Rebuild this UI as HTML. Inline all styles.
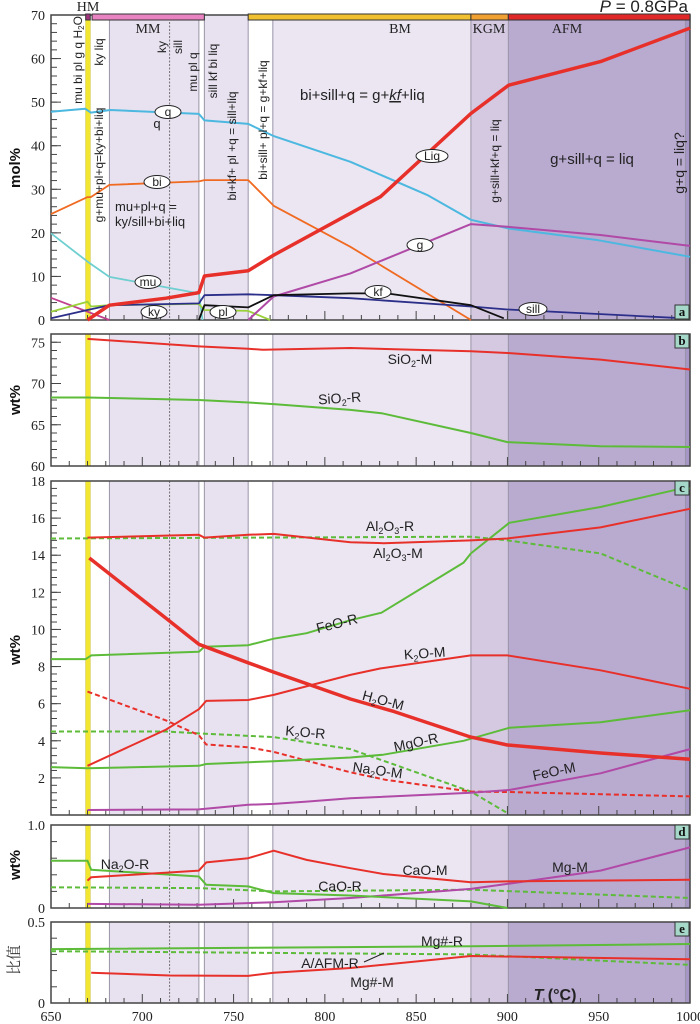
<!DOCTYPE html>
<html><head><meta charset="utf-8">
<style>
html,body{margin:0;padding:0;background:#fff;}
svg{display:block;}
.tk{font-family:"Liberation Serif",serif;font-size:14px;fill:#222;}
.lb{font-family:"Liberation Sans",sans-serif;fill:#222;}
</style></head>
<body>
<svg id="chart" width="700" height="1024" viewBox="0 0 700 1024" xmlns="http://www.w3.org/2000/svg"></svg>
<script>
// ---- data arrays ----
const ticksT = [650,700,750,800,850,900,950,1000];
// panel a (mol%)
const qT=[650,668.7,671.8,682.5,731,734,758,772,814,856,880,900.7,950,1000];
const qV=[47.8,48.5,47.6,48.2,47.3,45.8,45,42.2,36.3,28.7,23,21,18.3,14.5];
const liqT=[670,682,713,731,734,758,772,814,830.5,880,900.7,951,1000];
const liqV=[0,3.4,5,6.3,10.1,11.3,14.9,24.5,28.3,47.4,53.9,59.3,67];
const biT=[650,670,671.8,682,731,734,758,772,814,880];
const biV=[24.3,28.2,28.2,31,31.8,32.1,32.1,26.2,16.8,0];
const muT=[650,670,682,731,733];
const muV=[19.9,13.4,9.9,6.1,0];
const gT=[758,772,814,880,900,951,1000];
const gV=[0,5.4,10.7,22,21.4,19.5,17];
const h2oT=[650,682];
const h2oV=[5.1,0];
const kfT=[731,734,758,772,814,834,880,898];
const kfV=[0,3.4,2.9,5.7,6.1,6.1,3.4,0.4];
const sillT=[650,670,682,731,734,758,772,814,880,900,997];
const sillV=[0.4,2.3,3.4,3.8,5.7,5.9,5.7,5,3.1,2.4,0.4];
const plT=[650,670,672,682,731,734,758,770];
const plV=[1.9,4.2,3.1,3.4,3.7,2.3,2.1,0];
// panel b (wt%)
const sio2mT=[670,731,758,766,814,880,900,951,1000];
const sio2mV=[75.4,74.5,74.2,74.1,74.3,73.9,73.7,72.9,71.7];
const sio2rT=[650,670,731,758,772,814,831,880,900,951,1000];
const sio2rV=[68.3,68.3,68.0,67.7,67.5,66.8,66.4,64.0,62.9,62.4,62.3];
// panel c (wt%)
const al2o3mT=[670,731,734,758,772,814,832,880,900,951,1000];
const al2o3mV=[14.95,15.1,14.95,15.1,15.15,14.7,14.65,14.8,14.9,15.5,16.5];
const al2o3rT=[650,880,900,951,1000];
const al2o3rV=[14.9,15.0,14.8,14.1,12.1];
const feorT=[650,669,672,731,734,758,772,790,814,831,876,880,901,951,991,1000];
const feorV=[8.4,8.4,8.6,8.8,9.07,9.15,9.5,9.8,10.5,10.9,13.6,14.1,15.75,16.6,17.5,17.6];
const h2omT=[671,713,731,758,772,814,838,880,900,951,1000];
const h2omV=[13.85,10.6,9.2,8.2,7.7,6.25,5.57,4.2,3.77,3.34,3.0];
const k2omT=[670,713,731,735,758,772,814,830.6,880,900,951,1000];
const k2omV=[2.65,4.6,5.7,6.15,6.2,6.47,7.55,7.9,8.6,8.6,7.8,6.8];
const na2omT=[670,713,731,735,758,772,814,833,880,900,1000];
const na2omV=[6.65,5.1,4.3,3.8,3.65,3.4,2.3,1.9,1.26,1.24,1.0];
const k2orT=[650,713,731,772,814,880,900];
const k2orV=[4.5,4.5,4.4,4.2,3.55,1.26,0.1];
const mgorT=[650,670,731,735,772,814,832,876,901,951,1000];
const mgorV=[2.58,2.52,2.65,2.75,2.9,3.1,3.25,4.0,4.7,5.0,5.65];
const feomT=[670,731,758,772,790,814,880,901,951,1000];
const feomV=[0.27,0.3,0.55,0.6,0.72,0.9,1.2,1.35,2.25,3.55];
// panel d (wt%)
const na2orT=[650,670,672,731,735,758,772,814,880,900];
const na2orV=[0.57,0.57,0.46,0.38,0.28,0.26,0.18,0.15,0.08,0];
const caomT=[670,672,731,735,758,772,790,814,832,880,900,1000];
const caomV=[0.33,0.37,0.45,0.55,0.6,0.69,0.58,0.48,0.41,0.31,0.32,0.34];
const caorT=[650,731,772,880,1000];
const caorV=[0.25,0.24,0.2,0.22,0.12];
const mgmT=[670,731,772,814,880,900,951,1000];
const mgmV=[0.05,0.04,0.07,0.12,0.23,0.29,0.45,0.73];
// panel e (ratio)
const mgnrT=[650,880,1000];
const mgnrV=[0.333,0.35,0.364];
const afmrT=[650,880,1000];
const afmrV=[0.32,0.30,0.235];
const mgnmT=[672,715,758,772,814,880,1000];
const mgnmV=[0.187,0.17,0.167,0.187,0.216,0.29,0.27];

// ---- geometry ----
const X0=51, X1=690, T0=650, T1=1000;
function xs(t){return X0+(t-T0)*(X1-X0)/(T1-T0);}
const panels={
 a:{top:15,bot:320,min:0,max:70},
 b:{top:334,bot:466,min:60,max:76},
 c:{top:481,bot:815,min:0,max:18},
 d:{top:825,bot:908,min:0,max:1},
 e:{top:922,bot:1003,min:0,max:0.5}
};
function ys(p,v){const P=panels[p];return P.bot-(v-P.min)*(P.bot-P.top)/(P.max-P.min);}

const NS="http://www.w3.org/2000/svg";
const svg=document.getElementById('chart');
function mk(tag,attrs,parent){const e=document.createElementNS(NS,tag);for(const k in attrs)e.setAttribute(k,attrs[k]);(parent||svg).appendChild(e);return e;}

// panel backgrounds and bands
const bands=[[650,682,'#ffffff'],[682,731,'#e8e2f0'],[731,734,'#ffffff'],[734,758,'#e8e2f0'],[758,771.5,'#ffffff'],[771.5,880,'#ebe6f2'],[880,900.5,'#d4c9e1'],[900.5,997.5,'#b9aad0'],[997.5,1000,'#a596c6']];
const vlines=[682,715,731,734,758,771.5,880,900.5,997.5];
for(const p in panels){
  const P=panels[p];
  const g=mk('g',{});
  
  
  bands.forEach(b=>{
    const r=mk('rect',{x:xs(b[0]),y:P.top,width:xs(b[1])-xs(b[0]),height:P.bot-P.top,fill:b[2]},g);
    
    
  });
  const yb=mk('rect',{x:xs(669),y:P.top,width:xs(671.5)-xs(669),height:P.bot-P.top,fill:'#f2e630',stroke:'#c8bc20','stroke-width':0.5},g);
  
  
  vlines.forEach(t=>{
    const l=mk('line',{x1:xs(t),x2:xs(t),y1:P.top,y2:P.bot,stroke:t==715?'#555':'#9a94a6','stroke-width':t==715?0.8:1,'stroke-dasharray':t==715?'2,1.5':'none'},g);
    
    
  });
}

// axes, ticks
const yTicks={a:{maj:[0,10,20,30,40,50,60,70],lab:['0','10','20','30','40','50','60','70'],minor:2},
  b:{maj:[60,65,70,75],lab:['60','65','70','75'],minor:1},
  c:{maj:[2,4,6,8,10,12,14,16,18],lab:['2','4','6','8','10','12','14','16','18'],minor:0.4},
  d:{maj:[0,1],lab:['0','1.0'],minor:0.2},
  e:{maj:[0,0.5],lab:['0','0.5'],minor:0.1}};
for(const p in panels){
  const P=panels[p];const Y=yTicks[p];
  const ax=mk('g',{});
  
  
  for(let v=P.min;v<=P.max+1e-6;v+=Y.minor){
    const y=ys(p,v);
    mk('line',{x1:X0,x2:X0+6,y1:y,y2:y,stroke:'#444','stroke-width':1},ax);
  }
  Y.maj.forEach((v,i)=>{
    const y=ys(p,v);
    mk('line',{x1:X0,x2:X0+10,y1:y,y2:y,stroke:'#444','stroke-width':1},ax);
    const t=mk('text',{x:X0-6,y:y+5,'text-anchor':'end',class:'tk'},ax);
    t.textContent=Y.lab[i];
    
    
  });
  const xa=mk('g',{});
  
  
  for(let t=T0+10;t<T1;t+=10){
    const big=(t%50==0);
    mk('line',{x1:xs(t),x2:xs(t),y1:P.bot,y2:P.bot-(big?9:5),stroke:'#444','stroke-width':1},xa);
  }
  const fr=mk('rect',{x:X0,y:P.top,width:X1-X0,height:P.bot-P.top,fill:'none',stroke:'#444','stroke-width':1.5});
  
  
}
ticksT.forEach(t=>{
  const tx=mk('text',{x:xs(t),y:1021,'text-anchor':'middle',class:'tk'});
  tx.textContent=String(t);
  
  
});

// series
function series(name,p,T,V,color,w,dash){
  let d='';
  T.forEach((t,i)=>{d+=(i?'L':'M')+xs(t).toFixed(1)+','+ys(p,V[i]).toFixed(1);});
  const path=mk('path',{d:d,fill:'none',stroke:color,'stroke-width':w,'stroke-linejoin':'round','stroke-dasharray':dash||'none'});
  
  
}
const RED='#e8302a',GRN='#5dbb3a',MAG='#b04aa6';
series('line-mu','a',muT,muV,'#6fcfd0',1.8);
series('line-h2o','a',h2oT,h2oV,'#c0408f',1.8);
series('line-pl','a',plT,plV,'#9ad13a',1.8);
series('line-bi','a',biT,biV,'#f06a22',1.8);
series('line-q','a',qT,qV,'#4cb8e0',2);
series('line-g','a',gT,gV,MAG,2);
series('line-ky-sill','a',sillT,sillV,'#2c2f8a',1.8);
series('line-kf','a',kfT,kfV,'#111',1.8);
series('line-liq','a',liqT,liqV,RED,3.5);

series('line-sio2-m','b',sio2mT,sio2mV,RED,2);
series('line-sio2-r','b',sio2rT,sio2rV,GRN,2);

series('line-al2o3-r','c',al2o3rT,al2o3rV,GRN,2,'5,3');
series('line-k2o-r','c',k2orT,k2orV,GRN,2,'5,3');
series('line-na2o-m','c',na2omT,na2omV,RED,2,'5,3');
series('line-feo-m','c',feomT,feomV,MAG,2);
series('line-mgo-r','c',mgorT,mgorV,GRN,2);
series('line-feo-r','c',feorT,feorV,GRN,2);
series('line-k2o-m','c',k2omT,k2omV,RED,2);
series('line-al2o3-m','c',al2o3mT,al2o3mV,RED,2);
series('line-h2o-m','c',h2omT,h2omV,RED,3.5);

series('line-cao-r','d',caorT,caorV,GRN,2,'5,3');
series('line-mg-m','d',mgmT,mgmV,MAG,2);
series('line-na2o-r','d',na2orT,na2orV,GRN,2);
series('line-cao-m','d',caomT,caomV,RED,2);

series('line-afm-r','e',afmrT,afmrV,GRN,2,'5,3');
series('line-mgn-r','e',mgnrT,mgnrV,GRN,2);
series('line-mgn-m','e',mgnmT,mgnmV,RED,2);

// top facies bars
const bars=[[669,671.5,'#a0327c'],[672.5,734,'#e882c0'],[758,880,'#f0c030'],[880,900.5,'#f0a030'],[900.5,1000,'#e02828']];
bars.forEach(b=>{
  const r=mk('rect',{x:xs(b[0]),y:14,width:xs(b[1])-xs(b[0]),height:6,fill:b[2],stroke:'#333','stroke-width':1});
  
  
});
</script>

<svg width="700" height="1024" style="position:absolute;left:0;top:0" xmlns="http://www.w3.org/2000/svg">
<g font-family="Liberation Serif, serif" font-size="14" fill="#222">
<text x="88" y="11" text-anchor="middle">HM</text>
<text x="148" y="33" text-anchor="middle">MM</text>
<text x="400" y="33" text-anchor="middle">BM</text>
<text x="489" y="33" text-anchor="middle">KGM</text>
<text x="567" y="33" text-anchor="middle">AFM</text>
</g>
<text x="688" y="12" text-anchor="end" font-family="Liberation Sans, sans-serif" font-size="17" fill="#222"><tspan font-style="italic">P</tspan> = 0.8GPa</text>

<g font-family="Liberation Sans, sans-serif" font-weight="bold" font-size="15" fill="#111">
<text transform="translate(20,168) rotate(-90)" text-anchor="middle">mol%</text>
<text transform="translate(20,400) rotate(-90)" text-anchor="middle">wt%</text>
<text transform="translate(20,650) rotate(-90)" text-anchor="middle">wt%</text>
<text transform="translate(20,865) rotate(-90)" text-anchor="middle">wt%</text>
</g>
<text transform="translate(19,960) rotate(-90)" text-anchor="middle" font-family="Liberation Serif, 'Noto Serif CJK SC', serif" font-size="15" fill="#333">比值</text>

<g font-family="Liberation Sans, sans-serif" font-size="12" fill="#222">
<text transform="translate(82,60) rotate(-90)" text-anchor="middle">mu bi pl g q H<tspan font-size="8" dy="2">2</tspan><tspan dy="-2">O</tspan></text>
<text transform="translate(103,52) rotate(-90)" text-anchor="middle">ky liq</text>
<text transform="translate(166,47) rotate(-90)" text-anchor="middle">ky</text>
<text transform="translate(182,47) rotate(-90)" text-anchor="middle">sill</text>
<text transform="translate(197,72) rotate(-90)" text-anchor="middle">mu pl q</text>
<text transform="translate(217,71) rotate(-90)" text-anchor="middle">sill kf bi liq</text>
<text transform="translate(103,165) rotate(-90)" text-anchor="middle">g+mu+pl+q=ky+bi+liq</text>
<text transform="translate(236,146) rotate(-90)" text-anchor="middle">bi+kf+ pl +q = sill+liq</text>
<text transform="translate(267,120) rotate(-90)" text-anchor="middle">bi+sill+ pl+q = g+kf+liq</text>
<text transform="translate(499,161) rotate(-90)" text-anchor="middle">g+sill+kf+q = liq</text>
<text transform="translate(684,163) rotate(-90)" text-anchor="middle" font-size="14">g+q = liq?</text>
<text x="115" y="211" font-size="13">mu+pl+q =</text>
<text x="115" y="226" font-size="13">ky/sill+bi+liq</text>
<text x="300" y="100" font-size="15">bi+sill+q = g+<tspan font-style="italic" text-decoration="underline">kf</tspan>+liq</text>
<text x="592" y="164" font-size="15" text-anchor="middle">g+sill+q = liq</text>
<text x="157" y="128" text-anchor="middle" font-size="13">q</text>
</g>

<g font-family="Liberation Sans, sans-serif" font-size="12" fill="#222" stroke-width="1">
<g><ellipse cx="168" cy="112" rx="13" ry="6.5" fill="#fff" stroke="#222"/><text x="168" y="116" text-anchor="middle">q</text></g>
<g><ellipse cx="157" cy="182" rx="13" ry="6.5" fill="#fff" stroke="#222"/><text x="157" y="186" text-anchor="middle">bi</text></g>
<g><ellipse cx="148" cy="282" rx="13" ry="6.5" fill="#fff" stroke="#222"/><text x="148" y="286" text-anchor="middle">mu</text></g>
<g><ellipse cx="154" cy="312" rx="13" ry="6.5" fill="#fff" stroke="#222"/><text x="154" y="316" text-anchor="middle">ky</text></g>
<g><ellipse cx="223" cy="312" rx="13" ry="6.5" fill="#fff" stroke="#222"/><text x="223" y="316" text-anchor="middle">pl</text></g>
<g><ellipse cx="432" cy="156" rx="16" ry="6.5" fill="#fff" stroke="#222"/><text x="432" y="160" text-anchor="middle">Liq</text></g>
<g><ellipse cx="420" cy="245" rx="13" ry="6.5" fill="#fff" stroke="#222"/><text x="420" y="249" text-anchor="middle">g</text></g>
<g><ellipse cx="378" cy="292" rx="13" ry="6.5" fill="#fff" stroke="#222"/><text x="378" y="296" text-anchor="middle">kf</text></g>
<g><ellipse cx="533" cy="309" rx="14" ry="6.5" fill="#fff" stroke="#222"/><text x="533" y="313" text-anchor="middle">sill</text></g>
</g>

<g font-family="Liberation Sans, sans-serif" font-size="14" fill="#222">
<text x="410" y="364" text-anchor="middle">SiO<tspan font-size="9" dy="3">2</tspan><tspan dy="-3">-M</tspan></text>
<text x="340" y="403" text-anchor="middle" transform="rotate(-4 340 403)">SiO<tspan font-size="9" dy="3">2</tspan><tspan dy="-3">-R</tspan></text>
<text x="390" y="531" text-anchor="middle">Al<tspan font-size="9" dy="3">2</tspan><tspan dy="-3">O</tspan><tspan font-size="9" dy="3">3</tspan><tspan dy="-3">-R</tspan></text>
<text x="398" y="558" text-anchor="middle">Al<tspan font-size="9" dy="3">2</tspan><tspan dy="-3">O</tspan><tspan font-size="9" dy="3">3</tspan><tspan dy="-3">-M</tspan></text>
<text x="338" y="628" text-anchor="middle" transform="rotate(-14 338 628)">FeO-R</text>
<text x="425" y="658" text-anchor="middle" transform="rotate(-4 425 658)">K<tspan font-size="9" dy="3">2</tspan><tspan dy="-3">O-M</tspan></text>
<text x="382" y="705" text-anchor="middle" transform="rotate(15 382 705)">H<tspan font-size="9" dy="3">2</tspan><tspan dy="-3">O-M</tspan></text>
<text x="305" y="737" text-anchor="middle" transform="rotate(5 305 737)">K<tspan font-size="9" dy="3">2</tspan><tspan dy="-3">O-R</tspan></text>
<text x="417" y="747" text-anchor="middle" transform="rotate(-12 417 747)">MgO-R</text>
<text x="377" y="775" text-anchor="middle" transform="rotate(8 377 775)">Na<tspan font-size="9" dy="3">2</tspan><tspan dy="-3">O-M</tspan></text>
<text x="555" y="776" text-anchor="middle" transform="rotate(-12 555 776)">FeO-M</text>
<text x="125" y="869" text-anchor="middle">Na<tspan font-size="9" dy="3">2</tspan><tspan dy="-3">O-R</tspan></text>
<text x="425" y="875" text-anchor="middle">CaO-M</text>
<text x="340" y="891" text-anchor="middle">CaO-R</text>
<text x="570" y="872" text-anchor="middle">Mg-M</text>
<text x="442" y="946" text-anchor="middle">Mg#-R</text>
<text x="330" y="968" text-anchor="middle">A/AFM-R</text>
<line x1="364" y1="962" x2="384" y2="953" stroke="#222" stroke-width="1"/>
<text x="372" y="987" text-anchor="middle">Mg#-M</text>
<text x="555" y="1000" text-anchor="middle" font-size="16" font-weight="bold"><tspan font-style="italic">T</tspan> (°C)</text>
</g>

<g font-family="Liberation Serif, serif" font-weight="bold" font-size="13" fill="#111">
<g><rect x="675" y="305" width="14" height="14" fill="#a5d8c8" stroke="#333"/><text x="682" y="316" text-anchor="middle">a</text></g>
<g><rect x="675" y="334" width="14" height="14" fill="#a5d8c8" stroke="#333"/><text x="682" y="345" text-anchor="middle">b</text></g>
<g><rect x="675" y="481" width="14" height="14" fill="#a5d8c8" stroke="#333"/><text x="682" y="492" text-anchor="middle">c</text></g>
<g><rect x="675" y="825" width="14" height="14" fill="#a5d8c8" stroke="#333"/><text x="682" y="836" text-anchor="middle">d</text></g>
<g><rect x="675" y="922" width="14" height="14" fill="#a5d8c8" stroke="#333"/><text x="682" y="933" text-anchor="middle">e</text></g>
</g>
</svg>
</body></html>
